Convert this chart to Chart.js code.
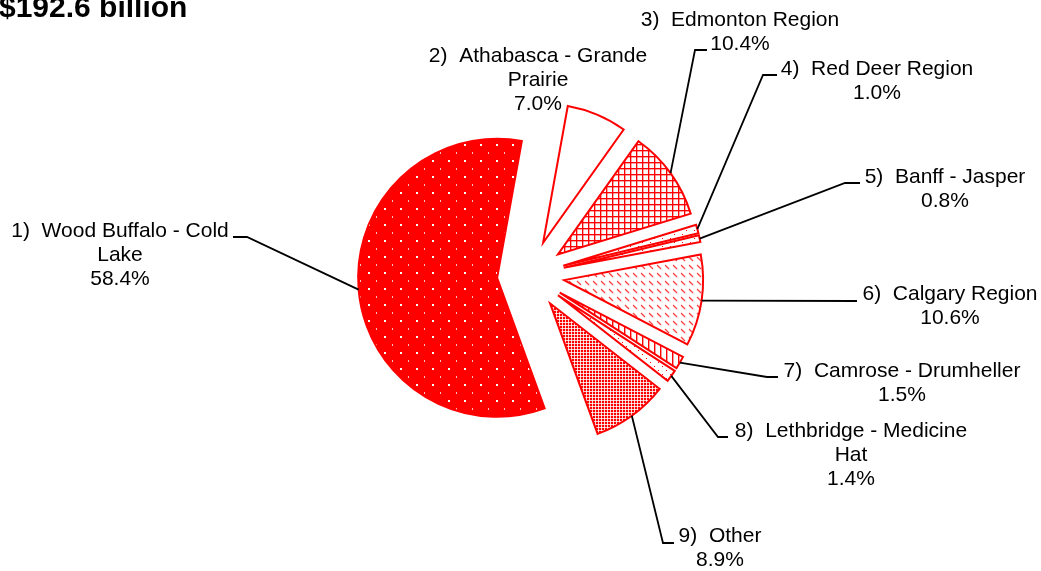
<!DOCTYPE html>
<html lang="en">
<head>
  <meta charset="UTF-8">
  <title>Investment by Region</title>
  <script src="https://cdn.jsdelivr.net/npm/chart.js@4.4.1/dist/chart.umd.min.js"></script>
  <style>
    html, body { margin: 0; padding: 0; background: #fff; }
    #chartContainer { width: 1041px; height: 571px; }
  </style>
</head>
<body>
  <div id="chartContainer">
    <canvas id="chart" width="1041" height="571"></canvas>
  </div>
  <script>
// region names (already wrapped the way the labels show them) and share of total, %
var regions = [
  ['Wood Buffalo - Cold', 'Lake'],
  ['Athabasca - Grande', 'Prairie'],
  ['Edmonton Region'],
  ['Red Deer Region'],
  ['Banff - Jasper'],
  ['Calgary Region'],
  ['Camrose - Drumheller'],
  ['Lethbridge - Medicine', 'Hat'],
  ['Other']
];
var shares = [58.4, 7.0, 10.4, 1.0, 0.8, 10.6, 1.5, 1.4, 8.9];
var totalText = '$192.6 billion';

// how far each slice is pulled out from the centre (px)
var explode = [32.5, 35, 35, 35, 35, 35, 35, 35, 35];

// label block: centre x, first baseline y, leader elbow and end (null = no leader)
var labelPos = [
  { x: 120, y: 237, elbow: [247, 237], end: [233, 237] },
  { x: 538, y: 62,  elbow: null, end: null },
  { x: 740, y: 26,  elbow: [695, 50], end: [707, 50] },
  { x: 877, y: 75,  elbow: [763, 75], end: [777, 75] },
  { x: 945, y: 183, elbow: [845, 183], end: [860, 183] },
  { x: 950, y: 300, elbow: [857, 301], end: [857, 301] },
  { x: 902, y: 377, elbow: [767, 377], end: [778, 377] },
  { x: 851, y: 437, elbow: [718, 437], end: [728, 437] },
  { x: 720, y: 542, elbow: [663, 543], end: [674, 543] }
];

var RED = '#ff0000';

function makePattern(w, h, draw) {
  var c = document.createElement('canvas');
  c.width = w; c.height = h;
  var g = c.getContext('2d');
  draw(g);
  return g.createPattern(c, 'repeat');
}

// dotted red
var dotsOnRed = makePattern(16, 16, function(g) {
  g.fillStyle = RED; g.fillRect(0, 0, 16, 16);
  g.fillStyle = '#ffffff'; g.fillRect(0, 0, 2, 2);
  g.fillStyle = 'rgba(255,255,255,0.75)'; g.fillRect(8, 8, 1, 2);
});
// small grid
var smallGrid = makePattern(6, 6, function(g) {
  g.fillStyle = '#fff'; g.fillRect(0, 0, 6, 6);
  g.fillStyle = RED; g.fillRect(0, 0, 6, 1); g.fillRect(0, 0, 1, 6);
  g.fillStyle = 'rgba(255,0,0,0.35)'; g.fillRect(0, 1, 6, 1); g.fillRect(1, 0, 1, 6);
});
// sparse dots on white
var sparseDots = makePattern(8, 8, function(g) {
  g.fillStyle = '#fff'; g.fillRect(0, 0, 8, 8);
  g.fillStyle = RED; g.fillRect(2, 2, 1, 1); g.fillRect(6, 6, 1, 1);
});
// short diagonal dashes
var diagDash = makePattern(8, 8, function(g) {
  g.fillStyle = '#fff'; g.fillRect(0, 0, 8, 8);
  g.strokeStyle = 'rgba(255,0,0,0.75)'; g.lineWidth = 1.3;
  g.beginPath(); g.moveTo(1, 1); g.lineTo(5, 5); g.stroke();
});
// narrow vertical lines
var vertLines = makePattern(6, 4, function(g) {
  g.fillStyle = '#fff'; g.fillRect(0, 0, 6, 4);
  g.fillStyle = RED; g.fillRect(0, 0, 1, 4);
  g.fillStyle = 'rgba(255,0,0,0.4)'; g.fillRect(1, 0, 1, 4);
});
// fine white specks on red, reads as pink
var fineSpecks = makePattern(3, 3, function(g) {
  g.fillStyle = RED; g.fillRect(0, 0, 3, 3);
  g.fillStyle = '#ffcccc';
  g.fillRect(0, 1, 3, 1); g.fillRect(1, 0, 1, 3);
  g.fillStyle = '#ffffff'; g.fillRect(1, 1, 1, 1);
});

var fills = [dotsOnRed, '#ffffff', smallGrid, sparseDots, sparseDots, diagDash, vertLines, sparseDots, fineSpecks];

var pieLabels = {
  id: 'pieLabels',
  beforeDatasetsDraw: function(chart) {
    var meta = chart.getDatasetMeta(0);
    var area = chart.chartArea;
    var cx = (area.left + area.right) / 2 + (meta.controller.offsetX || 0);
    var cy = (area.top + area.bottom) / 2 + (meta.controller.offsetY || 0);
    meta.data.forEach(function(arc, i) {
      var mid = (arc.startAngle + arc.endAngle) / 2;
      arc.x = cx + explode[i] * Math.cos(mid);
      arc.y = cy + explode[i] * Math.sin(mid);
    });
  },
  afterDatasetsDraw: function(chart) {
    var ctx = chart.ctx;
    var meta = chart.getDatasetMeta(0);
    ctx.save();

    // leader lines
    ctx.strokeStyle = '#000';
    ctx.lineWidth = 1.8;
    meta.data.forEach(function(arc, i) {
      var p = labelPos[i];
      if (!p.elbow) return;
      var mid = (arc.startAngle + arc.endAngle) / 2;
      var sx = arc.x + arc.outerRadius * Math.cos(mid);
      var sy = arc.y + arc.outerRadius * Math.sin(mid);
      ctx.beginPath();
      ctx.moveTo(sx, sy);
      ctx.lineTo(p.elbow[0], p.elbow[1]);
      ctx.lineTo(p.end[0], p.end[1]);
      ctx.stroke();
    });

    // labels
    ctx.fillStyle = '#000';
    ctx.font = '21px "Liberation Sans", Arial, sans-serif';
    ctx.textAlign = 'center';
    ctx.textBaseline = 'alphabetic';
    regions.forEach(function(name, i) {
      var lines = name.slice();
      lines[0] = (i + 1) + ')  ' + lines[0];
      lines.push(shares[i].toFixed(1) + '%');
      lines.forEach(function(t, k) {
        ctx.fillText(t, labelPos[i].x, labelPos[i].y + k * 24);
      });
    });

    // total
    ctx.font = 'bold 30px "Liberation Sans", Arial, sans-serif';
    ctx.textAlign = 'left';
    ctx.fillText(totalText, -1, 17);
    ctx.restore();
  }
};

var ctx = document.getElementById('chart').getContext('2d');
window.myChart = new Chart(ctx, {
  type: 'pie',
  data: {
    labels: regions,
    datasets: [{
      data: shares,
      backgroundColor: fills,
      borderColor: RED,
      borderWidth: 2,
      borderJoinStyle: 'miter'
    }]
  },
  options: {
    responsive: false,
    devicePixelRatio: 1,
    animation: false,
    events: [],
    radius: 139,
    rotation: 160,
    layout: { padding: { left: 240, right: 222, top: 40, bottom: 61 } },
    plugins: {
      legend: { display: false },
      tooltip: { enabled: false }
    }
  },
  plugins: [pieLabels]
});
  </script>
</body>
</html>
